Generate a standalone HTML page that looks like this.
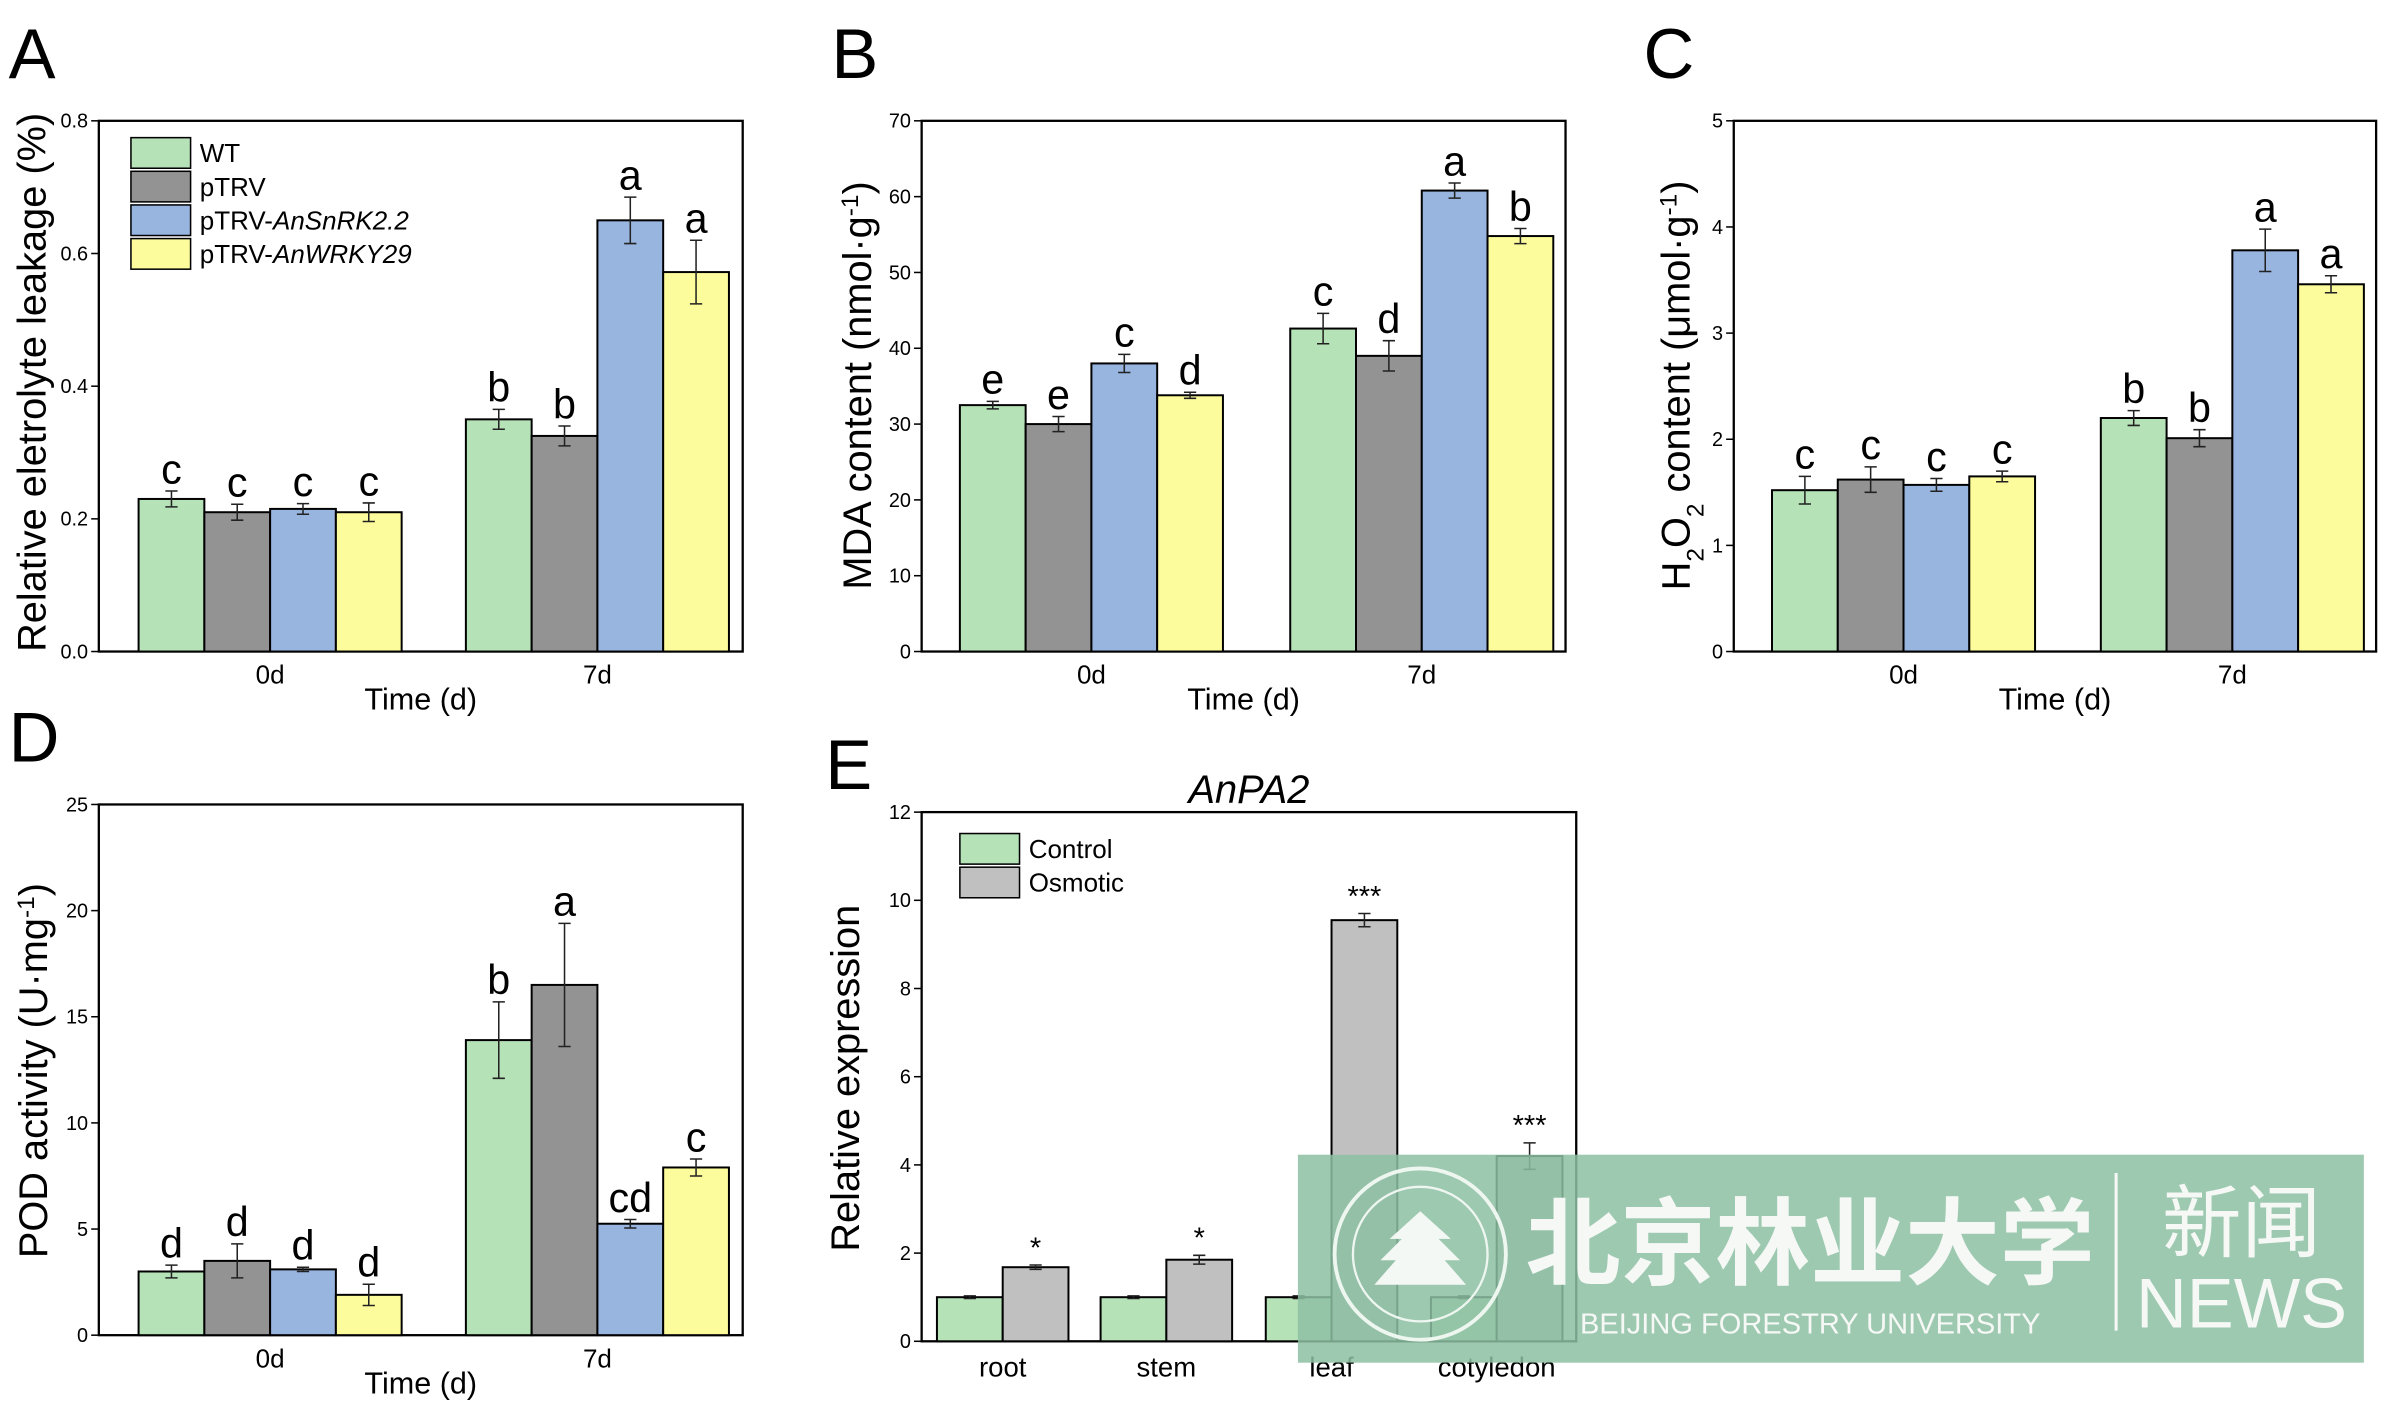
<!DOCTYPE html><html><head><meta charset="utf-8"><style>body{margin:0;background:#fff}svg{display:block}text{font-family:"Liberation Sans","Noto Sans CJK SC",sans-serif}</style></head><body>
<svg id="s" xmlns="http://www.w3.org/2000/svg" width="2400" height="1404" viewBox="0 0 1568 918"></svg>
<script>
const s=document.getElementById('s');let h='';
const C=['#b5e2b6','#939393','#98b5e0','#fdfc9d'];
function T(x,y,t,sz,a,extra){h+=`<text x="${x}" y="${y}" font-size="${sz}" text-anchor="${a||'middle'}" ${extra||''}>${t}</text>`;}
function panel(o){
 const {x0,x1,y0,y1,max,step,dec}=o;const sy=v=>y1-(v/max)*(y1-y0);
 h+=`<rect x="${x0}" y="${y0}" width="${x1-x0}" height="${y1-y0}" fill="none" stroke="#000" stroke-width="1.5"/>`;
 for(let v=0;v<=max+1e-9;v+=step){const y=sy(v);h+=`<line x1="${x0-5}" x2="${x0}" y1="${y}" y2="${y}" stroke="#000"/>`;T(x0-7,y+4.5,v.toFixed(dec),13,'end');}
 o.bars.forEach(b=>{const y=sy(b.v);h+=`<rect x="${b.x}" y="${y}" width="${b.w}" height="${y1-y}" fill="${b.c}" stroke="#000" stroke-width="1.3"/>`;
  const cx=b.x+b.w/2,ya=sy(b.v+b.e),yb=sy(b.v-b.e);h+=`<path d="M${cx} ${ya}V${yb}M${cx-4} ${ya}H${cx+4}M${cx-4} ${yb}H${cx+4}" stroke="#222" stroke-width="1"/>`;
  if(b.l)T(cx,ya-5,b.l,b.star?19:27,'middle');});
}
function grp(xs,vals,errs,lets){const r=[];xs.forEach((gx,g)=>{for(let i=0;i<4;i++)r.push({x:gx+i*43,w:43,v:vals[g][i],e:errs[g][i],c:C[i],l:lets[g][i]});});return r;}
function four(x0,x1,y0,y1,max,step,dec,g1,g2,vals,errs,lets,title,tx,ty,L){
 panel({x0,x1,y0,y1,max,step,dec,bars:grp([g1,g2],vals,errs,lets)});
 T(g1+86,y1+21,'0d',17);T(g2+86,y1+21,'7d',17);T((x0+x1)/2,y1+38,'Time (d)',20);
 h+=`<text transform="translate(${tx},${ty}) rotate(-90)" font-size="26" text-anchor="middle">${title}</text>`;
 T(x0-59,y0-28,L,46,'start');
}
four(64,485,79,426,0.8,0.2,1,90,304,[[.23,.21,.215,.21],[.35,.325,.65,.572]],[[.012,.012,.008,.014],[.015,.015,.035,.048]],[['c','c','c','c'],['b','b','a','a']],'Relative eletrolyte leakage (%)',29,250,'A');
four(602,1023,79,426,70,10,0,627,843,[[32.5,30,38,33.8],[42.6,39,60.8,54.8]],[[.5,1,1.2,.4],[2,2,1,1]],[['e','e','c','d'],['c','d','a','b']],'MDA content (nmol·g<tspan baseline-shift="super" font-size="16">-1</tspan>)',569,252,'B');
four(1133,1553,79,426,5,1,0,1158,1373,[[1.52,1.62,1.57,1.65],[2.2,2.01,3.78,3.46]],[[.13,.12,.06,.05],[.07,.08,.2,.08]],[['c','c','c','c'],['b','b','a','a']],'H<tspan baseline-shift="sub" font-size="16">2</tspan>O<tspan baseline-shift="sub" font-size="16">2</tspan> content (μmol·g<tspan baseline-shift="super" font-size="16">-1</tspan>)',1104,252,'C');
four(64,485,526,873,25,5,0,90,304,[[3,3.5,3.1,1.9],[13.9,16.5,5.25,7.9]],[[.3,.8,.1,.5],[1.8,2.9,.2,.4]],[['d','d','d','d'],['b','a','cd','c']],'POD activity (U·mg<tspan baseline-shift="super" font-size="16">-1</tspan>)',30,700,'D');
[['WT'],['pTRV'],['pTRV-<tspan font-style="italic">AnSnRK2.2</tspan>'],['pTRV-<tspan font-style="italic">AnWRKY29</tspan>']].forEach((l,i)=>{const y=90+i*22;h+=`<rect x="85" y="${y}" width="39" height="20" fill="${C[i]}" stroke="#000" stroke-width="1"/>`;T(130,y+16,l[0],17,'start');});
(function(){const ct=[655,762,870,978],ov=[1.68,1.85,9.55,4.2],oe=[.05,.1,.15,.3],st=['*','*','***','***'];const b=[];
 ct.forEach((c,i)=>{b.push({x:c-43,w:43,v:1,e:.03,c:'#b5e2b6'});b.push({x:c,w:43,v:ov[i],e:oe[i],c:'#c0c0c0',l:st[i],star:1});});
 panel({x0:602,x1:1030,y0:531,y1:877,max:12,step:2,dec:0,bars:b});
 ['root','stem','leaf','cotyledon'].forEach((t,i)=>T(ct[i],900,t,18));
 h+=`<text transform="translate(561,705) rotate(-90)" font-size="26" text-anchor="middle">Relative expression</text>`;
 T(816,525,'AnPA2',26,'middle','font-style="italic"');T(539,516,'E',46,'start');
 h+=`<rect x="627" y="545" width="39" height="20" fill="#b5e2b6" stroke="#000"/><rect x="627" y="567" width="39" height="20" fill="#c0c0c0" stroke="#000"/>`;T(672,561,'Control',17,'start');T(672,583,'Osmotic',17,'start');
})();
h+=`<rect x="848" y="755" width="697" height="136" fill="#8dbfa3" opacity="0.85"/>
<circle cx="928" cy="820" r="56" fill="none" stroke="#eef6f0" stroke-width="2.5"/><circle cx="928" cy="820" r="44" fill="none" stroke="#eef6f0" stroke-width="1.5"/>
<path d="M928 792l-20 18h8l-14 14h10l-14 16h60l-14-16h10l-14-14h8z" fill="#f3f8f4"/>
<text x="1183" y="835" font-size="62" fill="#f5f8f5" text-anchor="middle" font-family="Noto Serif CJK SC,serif" font-weight="bold">北京林业大学</text>
<text x="1183" y="872" font-size="19" fill="#f5f8f5" text-anchor="middle">BEIJING FORESTRY UNIVERSITY</text>
<line x1="1383" y1="767" x2="1383" y2="870" stroke="#f5f8f5" stroke-width="2"/>
<text x="1465" y="818" font-size="52" fill="#f5f8f5" text-anchor="middle">新闻</text>
<text x="1465" y="868" font-size="46" fill="#f5f8f5" text-anchor="middle">NEWS</text>`;
s.innerHTML=h;
</script></body></html>
